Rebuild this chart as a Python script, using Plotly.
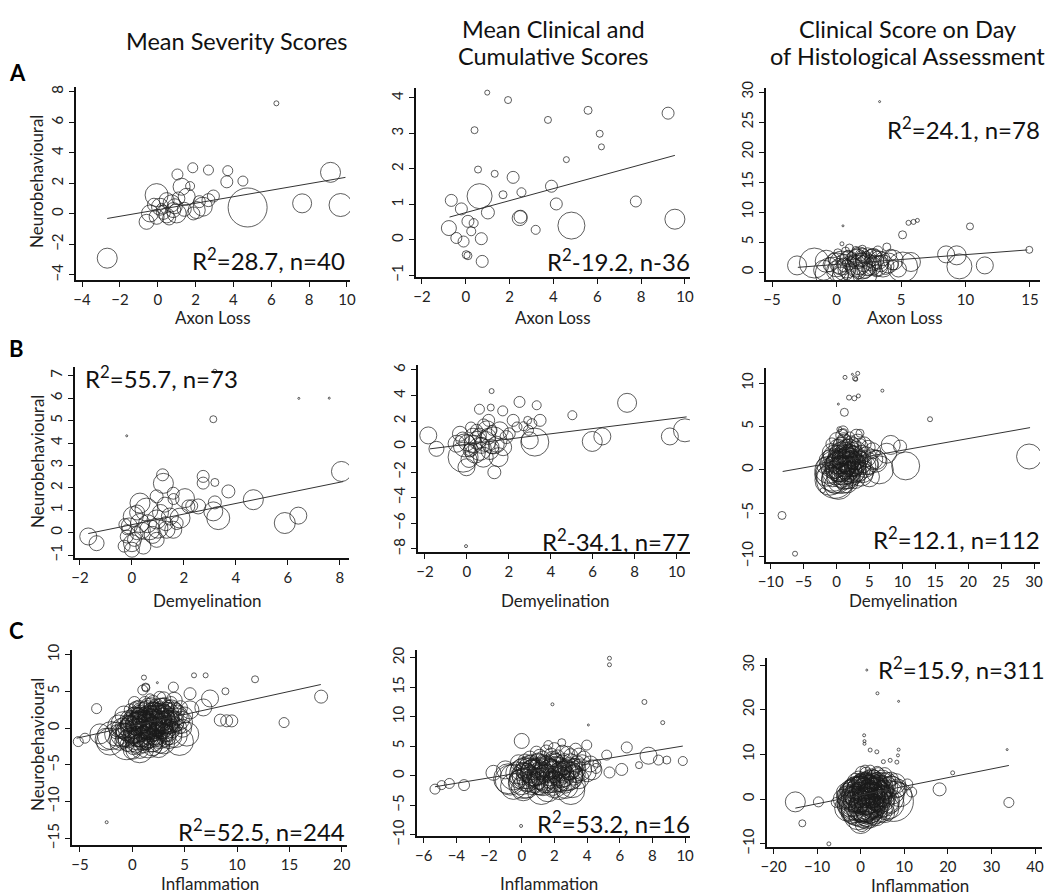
import plotly.graph_objects as go

# The page body has an 8px default margin, so the figure is drawn 8px smaller
# and every reference-pixel position is shifted by OFF.
OFF = 8
W, H = 1054 - OFF, 895 - OFF
FONT = "Lato"

# ---------------- data: (x, y, bubble size) ----------------
A1_points = [(-2.67,-2.9,20),(6.27,7.24,5),(9.66,0.58,23),(9.13,2.72,20),(7.63,0.69,19),(4.75,0.42,39),
    (4.5,2.15,10),(3.65,2.1,12),(3.7,2.83,10),(2.68,2.87,10),(1.85,3.02,10),(1.04,2.58,11),(1.71,1.82,9),
    (2.94,1.17,12),(2.38,0.47,19),(2.06,0.25,17),(1.26,1.78,17),(1.53,1.12,17),(-0.06,1.23,23),
    (-0.41,0.03,17),(-0.59,-0.52,15),(0.12,0.47,17),(0.47,0.9,15),(-0.06,-0.19,15),(0.82,0.25,15),
    (0.73,0.69,17),(1.0,0.03,19),(0.47,-0.1,15),(1.09,1.01,13),(0.2,0.36,10),(1.88,0.03,13),(2.68,0.9,13),
    (0.3,0.1,14),(0.9,0.5,15),(-0.2,0.6,13),(1.4,0.3,14),(0.6,-0.3,13),(2.2,0.8,12)]
A1_fit_x = [-2.67, 9.92]
A1_fit_y = [-0.30, 2.39]

A2_points = [(0.98,4.15,5),(1.93,3.94,7),(0.4,3.09,7),(3.75,3.38,7),(5.58,3.65,8),(9.23,3.57,12),
    (6.11,2.99,7),(6.19,2.62,6),(4.59,2.26,6),(0.56,1.98,7),(1.32,1.86,7),(2.16,1.76,12),(3.91,1.51,12),
    (2.54,1.34,9),(1.7,1.27,8),(0.63,1.23,25),(7.76,1.08,11),(4.13,1.01,12),(1.01,0.77,13),(2.46,0.61,15),
    (4.82,0.4,27),(9.54,0.58,20),(3.19,0.28,9),(-0.66,1.11,12),(-0.2,0.87,12),(0.1,0.52,12),(0.36,0.47,9),
    (0.25,0.24,9),(-0.77,0.33,15),(-0.43,0.05,11),(-0.1,-0.05,11),(0.71,0.03,12),(0.1,-0.45,8),
    (0.02,-0.42,8),(0.75,-0.61,12),(2.5,0.65,13)]
A2_fit_x = [-0.74, 9.54]
A2_fit_y = [0.64, 2.38]

A3_points = [(3.34,28.4,2),(0.5,7.7,2),(0.42,4.7,4),(5.58,8.2,5),(5.97,8.35,5),(6.27,8.6,4),(5.12,6.2,8),
    (10.35,7.6,7),(14.95,3.7,7),(3.9,4.17,8),(-1.72,1.5,30),(-3.06,1.1,19),(-0.36,-0.28,33),(1.78,2.5,20),
    (5.13,0.83,30),(5.77,1.67,19),(8.5,2.94,17),(9.53,0.94,25),(9.32,2.78,19),(11.5,1.1,17),(4.03,1.5,20),
    (2.87,2.5,17),(0.2,1.0,15),(0.5,2.0,12),(0.8,0.5,18),(1.0,1.5,14),(1.2,2.5,10),(1.4,0.8,16),
    (1.6,3.0,10),(1.8,1.2,20),(2.0,2.0,14),(2.2,0.3,16),(2.4,3.2,10),(2.6,1.8,12),(2.8,1.0,18),
    (3.0,2.6,12),(3.2,3.5,10),(3.4,1.4,16),(3.6,2.2,14),(3.8,0.6,12),(4.2,2.8,12),(4.4,1.2,10),
    (0.0,0.2,20),(0.3,-0.5,16),(0.6,1.2,14),(0.9,2.8,10),(1.1,-0.2,18),(1.3,1.9,12),(1.5,3.6,8),
    (1.7,0.0,14),(1.9,2.7,10),(2.1,1.4,16),(2.3,2.4,12),(2.5,0.6,14),(2.7,3.0,10),(2.9,1.6,14),
    (3.1,0.2,12),(3.3,2.0,18),(0.1,3.2,8),(0.7,3.5,8),(1.0,4.0,8),(2.0,3.8,8),(-0.5,1.2,14),
    (-0.2,2.2,12),(4.8,0.5,16),(-1.0,0.3,20),(0.6,0.4,22),(1.5,1.0,22),(2.4,1.2,22),(3.2,1.0,20),
    (0.9,2.2,16),(2.0,2.8,14),
    (0.4,1.5,24),(1.2,0.4,24),(2.0,1.0,26),(2.8,2.0,22),(3.6,1.0,22),(1.6,2.2,20),(0.0,1.2,24),
    (-0.8,1.8,22),(4.4,2.0,20),(2.2,-0.4,24)]
A3_fit_x = [-3.0, 14.8]
A3_fit_y = [0.78, 3.68]

B1_points = [(3.19,7.2,4),(3.13,5.06,7),(-0.2,4.32,2),(6.42,5.99,2),(7.59,6.0,2),(8.06,2.73,20),
    (4.67,1.47,20),(3.71,1.84,13),(3.19,1.35,13),(3.32,0.65,23),(3.13,0.95,19),(5.88,0.43,21),
    (6.4,0.76,17),(2.74,2.51,12),(2.74,2.21,12),(3.19,2.24,8),(2.04,1.54,19),(2.55,1.17,15),
    (2.17,1.17,13),(1.59,1.76,12),(1.21,2.2,20),(1.18,2.58,12),(1.27,1.25,15),(0.95,1.62,13),
    (1.85,0.65,20),(1.59,0.13,17),(0.95,0.59,19),(0.56,1.03,23),(0.31,0.43,19),(0.69,0.13,20),
    (0.05,0.72,20),(-0.2,-0.17,13),(0.0,-0.47,17),(0.0,-0.76,15),(-0.2,0.13,10),(0.18,-0.02,13),
    (-0.27,0.36,12),(0.31,1.32,20),(1.33,0.13,17),(1.46,0.72,17),(-1.68,-0.17,17),(-1.36,-0.47,15),
    (0.44,-0.62,15),(0.95,-0.32,15),(1.72,0.43,13),(0.1,-0.3,14),(-0.1,0.3,16),(0.6,0.4,18),
    (1.1,0.9,16),(0.8,-0.1,17),(-0.3,-0.6,12),(1.3,0.4,14),(0.2,0.9,15),(1.0,0.2,20),(0.4,0.1,16),
    (1.6,1.5,11),(2.3,1.2,12)]
B1_fit_x = [-1.68, 8.13]
B1_fit_y = [-0.04, 2.28]

B2_points = [(1.18,4.35,5),(-0.04,-7.78,3),(2.51,3.5,11),(3.33,3.24,9),(7.64,3.43,19),(5.03,2.46,9),
    (3.49,2.06,12),(2.9,2.06,8),(2.21,2.06,12),(1.71,2.8,10),(0.6,2.93,10),(1.14,3.06,7),(-1.84,0.88,17),
    (-1.45,-0.17,15),(3.0,0.49,17),(3.24,0.36,28),(5.98,0.41,20),(6.46,0.8,17),(9.68,0.8,17),
    (10.4,1.28,23),(2.94,1.28,10),(2.39,1.54,10),(2.02,1.01,12),(1.31,-2.0,13),(-0.18,-0.82,30),
    (-0.1,0.1,23),(0.62,-0.17,23),(1.27,0.49,27),(1.51,-0.82,19),(0.96,1.28,19),(0.3,0.78,17),
    (1.57,1.28,17),(1.73,-0.04,17),(-0.02,-1.61,17),(0.78,-0.82,20),(-0.49,0.23,17),(0.46,1.28,12),
    (-0.33,1.01,15),(1.04,2.06,12),(1.89,0.75,13),(0.13,-0.3,13),(1.2,1.28,10),(0.3,0.2,18),
    (0.9,0.4,20),(0.1,-1.0,16),(0.6,0.9,14),(1.1,-0.3,18),(-0.2,0.6,14),(0.8,1.7,12),(1.4,0.2,16),
    (0.4,-0.5,20),(0.2,1.5,11),(2.7,1.6,9),(3.1,1.8,10),(0.0,0.3,16),(0.5,0.5,18),(1.0,0.8,16),
    (0.2,-0.2,14),(0.7,0.1,16),(1.2,0.0,14)]
B2_fit_x = [-1.76, 10.48]
B2_fit_y = [-0.17, 2.33]

B3_points = [(1.29,10.69,4),(2.81,10.58,5),(3.22,11.15,4),(2.41,11.04,2),(2.91,10.46,4),(1.9,8.35,5),
    (2.71,8.27,5),(3.32,8.54,4),(0.28,7.6,2),(6.96,9.15,3),(1.19,6.65,8),(14.2,5.85,5),(29.24,1.54,25),
    (10.5,0.46,28),(8.23,2.88,19),(9.65,2.69,13),(7.62,1.92,20),(-8.28,-5.27,8),(-6.3,-9.69,5),
    (-2.1,-2.38,5),(0.43,4.69,5),(1.04,4.31,8),(3.57,4.23,8),(-0.23,-1.15,37),(-1.24,0.0,27),
    (0.53,0.38,30),(4.58,0.77,23),(6.1,1.15,19),
    (0.0,0.0,30),(0.5,1.0,26),(-0.5,-0.5,34),(1.0,2.0,22),(1.5,0.5,28),(2.0,1.5,24),(-1.0,1.0,22),
    (0.2,2.5,18),(0.8,-1.0,30),(2.5,0.0,26),(3.0,2.0,22),(3.5,0.8,24),(4.0,-0.2,22),(4.5,1.5,20),
    (5.0,0.5,18),(5.5,2.2,16),(1.2,3.2,16),(2.2,3.0,16),(0.0,3.5,14),(-1.5,-0.5,24),(-0.8,2.0,18),
    (1.8,-0.8,24),(2.8,-1.0,20),(3.2,3.2,16),(0.3,-1.8,28),(1.0,0.0,30),(2.0,1.0,26),(0.5,2.0,20),
    (-0.2,1.5,24),(1.5,2.5,18),(3.8,1.8,18),(2.5,2.8,16),(6.0,1.0,22),(6.5,0.0,28),(4.2,3.0,14),
    (0.8,4.0,12),(1.0,4.5,10),(3.0,4.0,12),(-1.8,0.5,16),(0.1,0.8,22),(1.3,1.3,26),(2.8,0.6,22),
    (-0.3,-1.2,26),(3.3,-0.4,18),(1.6,-1.4,22),(4.8,2.6,14),(0.6,3.0,14),(2.0,3.8,10),(-0.7,3.0,12),
    (5.0,-0.8,20),
    (0.2,0.3,28),(0.7,-0.3,30),(1.2,0.8,28),(1.7,0.0,28),(2.2,0.7,26),(2.7,1.4,24),(3.2,0.2,26),
    (3.7,-0.5,24),(0.4,1.6,22),(0.9,2.6,20),(1.4,1.9,22),(1.9,2.4,20),(2.4,2.0,20),(0.0,-1.0,30),
    (-0.4,0.6,28),(-1.0,-1.2,30),(1.3,-0.6,28),(2.3,-0.4,24),(4.3,0.4,22),(5.5,1.2,20),(0.6,0.6,30),
    (1.6,1.1,26),(-0.6,1.2,22),(3.4,2.6,18),(1.1,3.6,12),
    (0.4,0.4,20),(0.9,1.0,20),(1.4,0.3,20),(1.9,0.9,20),(2.4,0.4,20),(2.9,1.0,18),(0.2,1.2,18),
    (1.0,-0.5,22),(1.8,-0.2,20),(3.1,0.6,18),(0.7,0.0,24),(1.5,1.6,18),(2.1,2.0,16),
    (0.3,-0.4,18),(0.8,0.6,18),(1.3,0.0,18),(1.8,0.5,18),(2.3,1.2,18),(2.8,0.2,18),(0.6,1.4,16),
    (1.6,2.0,16),(2.6,1.8,16),(-0.2,0.2,20),(1.1,-1.1,20),(3.6,1.2,16),(4.0,0.6,16),(-0.6,-0.8,20)]
B3_fit_x = [-8.18, 29.39]
B3_fit_y = [-0.19, 4.88]

C1_points = [(-2.45,-12.8,3),(18.03,4.3,13),(14.49,0.77,10),(11.72,6.66,7),(7.0,7.2,5),(5.89,7.2,5),
    (8.89,5.03,7),(1.11,6.9,5),(2.39,6.2,2),(3.92,5.6,10),(1.27,5.6,8),(-3.41,2.67,10),(7.42,4.05,17),
    (5.51,4.7,12),(6.78,2.83,17),(9.01,1.01,12),(9.5,1.0,12),(8.4,1.1,12),(-5.16,-1.82,10),
    (-4.52,-1.36,10),(-3.09,-0.77,20),(-2.13,-1.82,27),(-0.54,-2.04,33),(0.73,-2.95,17),(2.64,-2.04,20),
    (-1.2,-1.5,22),(-0.8,0.5,26),(-0.5,-1.0,24),(-0.3,1.2,18),(0.0,-0.2,28),(0.2,1.8,16),(0.4,-1.8,22),
    (0.5,0.6,24),(0.7,2.2,14),(0.9,-0.8,26),(1.0,1.0,20),(1.2,2.8,12),(1.3,-1.5,18),(1.5,0.2,26),
    (1.6,1.6,22),(1.8,3.2,14),(1.9,-0.5,20),(2.1,0.9,24),(2.2,2.3,18),(2.4,-1.2,16),(2.5,1.4,26),
    (2.7,3.0,16),(2.8,0.1,22),(3.0,1.9,20),(3.1,-0.7,18),(3.3,2.6,14),(3.4,0.8,24),(3.6,1.5,18),
    (3.8,-0.2,16),(4.0,2.2,20),(4.2,0.5,14),(4.4,1.2,22),(4.6,2.8,14),(4.8,0.0,18),(5.0,1.8,16),
    (-0.2,2.5,12),(0.1,-2.5,16),(0.6,3.0,12),(1.1,-2.4,14),(1.7,4.0,10),(2.0,-2.0,18),(2.6,4.2,12),
    (3.2,-1.6,14),(3.7,3.5,12),(0.3,0.0,30),(1.4,0.7,30),(2.3,1.0,30),(0.8,1.5,20),(-0.6,-0.3,20),
    (1.0,-0.1,24),(2.0,0.0,22),(2.9,2.6,22),(0.4,1.0,18),(1.8,2.0,16),(-1.0,0.0,20),(-1.5,-0.8,24),
    (0.0,-3.0,18),(0.7,-2.8,28),(1.5,-2.0,30),(2.5,-2.5,22),(3.5,-1.0,26),(4.5,-1.8,28),(5.2,-0.8,24),
    (5.5,2.5,18),(4.0,3.8,16),(3.0,4.0,14),(-2.0,-1.0,28),(-2.5,-1.5,22),(-0.8,1.8,18),(0.2,3.5,12),
    (1.2,3.5,12),(2.0,3.5,14),(1.0,5.2,10),(1.3,5.5,8),
    (0.1,0.4,26),(0.6,-0.6,28),(1.1,0.4,26),(1.6,-0.9,26),(2.1,-0.3,28),(2.6,0.6,26),(3.1,0.3,26),
    (3.6,-0.6,24),(0.3,1.4,22),(0.9,2.0,22),(1.4,2.4,20),(1.9,1.3,26),(2.4,1.9,22),(2.9,1.0,26),
    (3.4,2.0,22),(3.9,0.9,22),(-0.4,0.0,26),(-0.2,-1.6,24),(0.5,-1.2,26),(1.2,-1.0,28),(1.8,-1.6,24),
    (2.6,-1.0,26),(3.3,-0.2,24),(0.0,1.0,20),(0.8,0.2,30),(1.7,0.5,30),(2.7,1.5,28),(3.7,2.5,20),
    (4.3,1.8,20),(4.7,0.8,22),(-0.9,-0.9,24),(-1.3,0.3,22),(0.4,2.6,16),(1.5,3.0,16),(2.3,2.9,16),
    (3.1,3.2,14),(0.6,-2.2,20),(1.9,-2.4,20),(3.0,-2.0,22),(4.1,-1.0,24),
    (0.2,0.2,16),(0.5,1.2,18),(0.8,-0.4,16),(1.0,0.6,18),(1.3,1.2,16),(1.5,-0.3,18),(1.8,0.4,16),
    (2.0,1.5,18),(2.2,-0.6,16),(2.5,0.3,18),(2.8,1.2,16),(3.0,0.5,18),(3.3,1.4,16),(0.0,-0.8,18),
    (0.4,-1.4,16),(1.0,-1.8,18),(1.6,-1.2,16),(2.2,-1.4,16),(2.9,-0.4,16),(3.6,0.6,16),(0.6,1.8,14),
    (1.2,2.0,14),(1.9,2.6,14),(2.6,2.2,14),(-0.3,0.6,16),(-0.6,-1.4,16),(4.0,1.2,16),(3.4,-1.2,16),
    (0.9,0.9,24),(2.0,0.7,24),
    (-1.5,-0.5,14),(-1.0,-1.8,14),(-0.5,0.4,14),(-0.5,-2.2,14),(0.0,0.6,14),(0.0,-1.4,14),(0.3,-0.6,12),
    (0.5,2.0,12),(0.7,0.9,14),(0.8,-1.6,14),(1.1,1.6,12),(1.1,-0.6,14),(1.4,0.0,14),(1.4,-2.0,14),
    (1.7,1.0,14),(1.7,2.6,12),(2.0,-0.8,14),(2.0,2.8,12),(2.3,0.4,14),(2.3,1.6,14),(2.6,-1.6,14),
    (2.6,2.8,12),(2.9,0.4,14),(2.9,1.8,14),(3.2,-0.8,14),(3.2,2.2,12),(3.5,0.2,14),(3.5,3.0,12),
    (3.8,1.2,14),(4.2,2.6,12),(4.5,0.2,14),(0.2,2.8,10),(-0.8,-0.4,16),(1.6,-0.2,16),(2.4,-0.2,16),
    (0.6,0.2,16),(1.2,0.8,16),(3.0,1.2,16)]
C1_fit_x = [-5.32, 18.0]
C1_fit_y = [-1.36, 5.95]

C2_points = [(5.37,19.9,4),(5.37,18.8,4),(1.88,12.1,3),(7.51,12.5,5),(8.63,9.0,4),(4.08,8.6,2),
    (-0.04,-8.5,3),(0.0,5.9,15),(1.63,5.2,9),(2.45,5.6,8),(3.98,5.2,10),(6.43,4.8,11),(5.2,3.5,10),
    (7.76,3.4,17),(8.37,2.66,10),(8.88,2.66,8),(9.86,2.5,9),(7.18,1.8,7),(6.12,1.07,12),(5.37,0.56,11),
    (4.55,1.24,10),(4.6,2.1,8),(-5.31,-2.26,10),(-4.9,-1.58,9),(-4.43,-1.3,10),(-3.53,-1.58,11),
    (-1.73,0.5,15),(-0.71,-0.73,30),(0.1,-1.3,30),(1.12,-1.3,23),(2.65,-1.0,23),(3.16,0.11,20),
    (-0.3,0.5,22),(0.0,-1.0,26),(0.2,1.5,18),(0.4,-0.2,24),(0.6,2.2,16),(0.8,0.6,28),(1.0,-1.5,20),
    (1.1,1.2,22),(1.3,3.0,14),(1.4,-0.4,26),(1.6,2.0,18),(1.8,0.8,24),(1.9,-1.8,18),(2.1,1.6,20),
    (2.2,3.2,14),(2.4,0.2,26),(2.6,2.4,16),(2.7,-0.9,20),(2.9,1.2,22),(3.0,3.4,14),(3.2,0.4,18),
    (3.4,2.0,16),(0.5,3.0,14),(0.9,4.0,12),(1.5,4.2,12),(2.0,4.6,12),(2.5,4.0,14),(3.3,4.5,12),
    (0.1,-2.2,24),(1.2,-2.5,28),(2.3,-2.0,24),(3.1,-1.5,26),(-0.8,-0.5,30),(0.3,0.3,34),(1.6,0.0,34),
    (2.8,0.0,30),(0.6,1.0,20),(1.9,2.8,16),(3.6,1.0,22),(3.8,3.0,14),(4.0,0.5,18),(-1.0,1.0,18),
    (0.7,-1.0,22),(2.0,-1.0,22),(3.5,-0.5,20),(1.0,2.5,16),(2.5,1.0,18),(0.2,2.5,14),(-0.5,-1.8,26),
    (3.0,-2.5,28),
    (0.2,0.0,26),(0.7,0.5,26),(1.2,0.0,28),(1.7,0.5,26),(2.2,-0.5,26),(2.6,0.8,24),(3.0,-0.3,24),
    (0.5,1.8,20),(1.0,2.0,20),(1.5,1.5,22),(2.0,2.2,20),(2.5,1.8,20),(3.0,2.2,18),(0.0,1.0,22),
    (-0.5,-0.2,26),(0.6,-0.8,28),(1.3,-1.0,28),(2.0,-1.5,26),(2.7,-1.8,24),(3.3,1.2,20),(3.7,2.2,16),
    (0.3,-1.6,26),(1.8,3.5,14),(1.1,3.3,14),(2.8,3.8,14),(3.5,3.5,14),(4.2,2.0,16),(4.3,1.0,20),
    (-0.2,2.2,16),(1.6,-2.2,26),
    (0.3,0.6,18),(0.9,1.2,18),(1.4,0.4,18),(1.9,1.0,18),(2.4,0.6,18),(2.9,0.8,18),(0.6,-0.4,18),
    (1.1,0.2,20),(1.7,-0.4,20),(2.3,0.0,20),(0.0,0.2,20),(1.0,-0.6,20),(2.6,-0.2,20),(3.2,1.6,16),
    (1.3,2.4,14),(2.1,2.6,14),(0.4,0.9,24),(1.5,1.1,24),(2.2,1.3,22),
    (0.1,0.9,16),(0.5,0.1,16),(0.9,-0.2,16),(1.2,0.8,16),(1.6,0.6,16),(2.0,0.2,16),(2.3,1.0,16),
    (2.7,0.4,16),(3.1,0.9,16),(0.8,1.6,14),(1.7,1.8,14),(2.6,1.4,14),(-0.2,-0.6,18),(1.4,-1.4,18),
    (2.4,-1.2,18),(0.4,-1.2,18),(3.4,0.2,16),(1.9,-0.9,16)]
C2_fit_x = [-5.31, 9.86]
C2_fit_y = [-1.86, 5.03]

C3_points = [(1.4,28.9,2),(3.84,23.7,3),(8.7,21.9,2),(0.79,14.3,3),(0.87,13.0,3),(0.87,12.4,3),
    (2.17,11.0,4),(3.7,10.6,4),(5.2,8.4,4),(6.76,8.7,4),(8.3,8.3,4),(8.7,11.1,3),(8.55,9.8,3),
    (33.6,11.1,2),(21.1,5.9,4),(34.0,-0.74,10),(18.1,2.2,13),(10.7,3.3,11),(11.7,1.6,10),
    (-15.0,-0.6,20),(-9.7,-0.6,10),(-13.4,-5.4,7),(-7.3,-10.0,4),(0.25,-5.8,13),(-5.6,-0.74,10),
    (6.4,-0.74,20),(8.3,2.2,17),
    (0.0,0.0,45),(1.0,1.0,40),(-1.0,-1.0,38),(2.0,2.0,35),(-2.0,0.5,30),(3.0,-1.0,32),(4.0,1.5,30),
    (5.0,3.0,26),(6.0,0.5,34),(7.0,2.0,28),(-3.0,-2.0,26),(-1.5,2.5,22),(0.5,4.0,18),(1.5,-3.0,28),
    (2.5,5.0,16),(3.5,3.5,22),(4.5,-2.5,24),(5.5,5.5,14),(-4.0,0.0,20),(-0.5,-3.5,30),(1.8,-0.5,36),
    (-0.8,1.5,30),(3.2,0.8,34),(2.8,3.0,24),(0.8,-1.8,32),(4.8,0.0,26),(6.5,-1.0,30),(-2.5,2.0,20),
    (1.2,5.8,12),(3.8,6.0,12),(2.2,6.5,10),(0.2,6.0,12),(-1.2,4.0,16),(8.0,3.5,20),(9.0,1.0,24),
    (7.5,-0.5,40),(-3.5,1.5,18),(0.0,-5.0,24),(1.5,2.0,30),(2.0,-2.0,30),(-1.8,-1.5,28),(3.5,-3.5,22),
    (5.5,-3.0,20),(0.5,0.5,30),(1.0,-0.5,28),(2.5,1.0,26),(-0.5,2.5,22),(4.0,4.0,18),(6.0,2.5,22),
    (-2.0,-3.0,22),(1.5,3.5,20),(3.0,5.0,14),(0.0,3.0,20),(-1.0,0.0,26),(2.0,0.0,32),(5.0,1.0,24),
    (3.0,2.0,28),(-0.3,-2.0,36),(1.3,-4.0,24),(7.0,4.5,14),
    (0.5,-1.0,36),(1.5,0.5,34),(2.5,-0.5,34),(3.5,1.0,30),(4.5,2.5,26),(-0.5,0.5,34),(-1.5,-0.5,30),
    (0.0,2.0,28),(1.0,3.0,26),(2.0,4.0,22),(3.0,4.5,18),(4.0,3.0,22),(5.0,4.5,18),(6.0,4.0,18),
    (-2.5,-1.0,26),(-1.0,-2.5,30),(0.5,-3.0,30),(2.0,-3.5,26),(3.0,-2.5,28),(4.5,-1.0,28),(5.5,-0.5,30),
    (6.0,-2.0,24),(-3.0,0.5,22),(-2.0,2.5,18),(-0.5,4.5,16),(1.0,6.5,10),(4.0,5.5,14),(7.0,3.0,20),
    (8.5,2.5,18),(1.5,-1.5,36),
    (0.3,0.8,24),(1.2,-0.2,24),(2.2,1.2,24),(3.2,2.8,20),(-0.7,-0.4,24),(0.8,2.2,22),(1.8,3.0,20),
    (2.6,-1.4,24),(3.8,-0.2,22),(-1.4,1.0,22),(0.2,-1.8,26),(1.4,-2.4,24),(4.2,0.8,22),(5.2,2.0,20),
    (-0.2,3.8,16),(2.4,2.4,22),(1.0,1.8,26),(0.6,-0.6,40),(2.8,0.4,38),(-0.4,1.2,36),
    (-0.2,-0.8,20),(0.4,0.2,20),(1.0,0.4,20),(1.6,1.2,20),(2.2,-0.8,20),(2.8,1.6,20),(3.4,-0.4,20),
    (4.0,2.2,18),(-1.2,0.2,20),(-0.6,1.8,18),(0.6,2.8,18),(1.6,-1.0,20),(2.4,0.2,20),(3.6,1.8,18),
    (0.2,-2.6,20),(1.2,-3.2,18),(2.8,-2.0,20),(4.8,1.2,18),(5.6,0.6,22),(-1.8,0.8,18),(-2.6,-0.4,18),
    (0.0,4.2,14),(2.6,3.8,14),(4.6,3.6,14),(1.2,4.8,12)]
C3_fit_x = [-15.0, 34.0]
C3_fit_y = [-2.0, 7.55]

title_lines = [("Mean Severity Scores", 237, 41),
               ("Mean Clinical and", 553, 29), ("Cumulative Scores", 553, 56),
               ("Clinical Score on Day", 907, 29), ("of Histological Assessment", 907, 56)]
row_letters = ["A", "B", "C"]
x_titles = ["Axon Loss", "Demyelination", "Inflammation"]
y_title = "Neurobehavioural"
stats = ["R<sup>2</sup>=28.7, n=40", "R<sup>2</sup>-19.2, n-36", "R<sup>2</sup>=24.1, n=78",
         "R<sup>2</sup>=55.7, n=73", "R<sup>2</sup>-34.1, n=77", "R<sup>2</sup>=12.1, n=112",
         "R<sup>2</sup>=52.5, n=244", "R<sup>2</sup>=53.2, n=16", "R<sup>2</sup>=15.9, n=311"]

# ---------------- layout of the panels (reference pixel boxes) ----------------
panels = [
    # points, fit x, fit y, box (x0, x1, ytop, ybottom), xrange, yrange, xdtick, ydtick, stat (px, py, anchor)
    (A1_points, A1_fit_x, A1_fit_y, (76, 350, 87, 280), [-4.32, 10.16], [-4.33, 8.31], 2, 2, (347, 259, "right")),
    (A2_points, A2_fit_x, A2_fit_y, (416, 690, 88, 277), [-2.27, 10.23], [-1.05, 4.28], 2, 1, (692, 260, "right")),
    (A3_points, A3_fit_x, A3_fit_y, (766, 1040, 88, 280), [-5.47, 15.78], [-1.33, 30.67], 5, 5, (1042, 128, "right")),
    (B1_points, B1_fit_x, B1_fit_y, (75, 349, 367, 558), [-2.19, 8.35], [-1.13, 7.39], 2, 1, (83, 377, "left")),
    (B2_points, B2_fit_x, B2_fit_y, (418, 690, 365, 552), [-2.33, 10.64], [-8.24, 6.39], 2, 2, (692, 540, "right")),
    (B3_points, B3_fit_x, B3_fit_y, (766, 1040, 368, 562), [-10.71, 30.9], [-10.65, 11.77], 5, 5, (1042, 538, "right")),
    (C1_points, C1_fit_x, C1_fit_y, (72, 347, 650, 845), [-5.76, 20.5], [-15.9, 10.65], 5, 5, (347, 830, "right")),
    (C2_points, C2_fit_x, C2_fit_y, (417, 690, 650, 836), [-6.41, 10.3], [-10.2, 21.3], 2, 5, (692, 822, "right")),
    (C3_points, C3_fit_x, C3_fit_y, (767, 1042, 658, 847), [-21.5, 41.6], [-10.7, 31.6], 10, 10, (1047, 668, "right")),
]

def fx(p):
    return (p - OFF) / W

def fy(p):
    return 1 - (p - OFF) / H

fig = go.Figure()
layout = dict(width=W, height=H, margin=dict(l=0, r=0, t=0, b=0, autoexpand=False),
              paper_bgcolor="white", plot_bgcolor="white", showlegend=False,
              font=dict(family=FONT, color="#1a1a1a", size=15))
annotations = []

tickfont = dict(family=FONT, size=15, color="#222")
for i, (pts, fxs, fys, box, xr, yr, xd, yd, st) in enumerate(panels):
    k = i + 1
    xs = [p[0] for p in pts]
    ys = [p[1] for p in pts]
    ss = [p[2] for p in pts]
    xa = "x" if k == 1 else f"x{k}"
    ya = "y" if k == 1 else f"y{k}"
    fig.add_trace(go.Scatter(x=xs, y=ys, mode="markers", xaxis=xa, yaxis=ya,
                             marker=dict(symbol="circle-open", size=ss, color="#1a1a1a",
                                         line=dict(width=1)),
                             hoverinfo="skip"))
    fig.add_trace(go.Scatter(x=fxs, y=fys, mode="lines", xaxis=xa, yaxis=ya,
                             line=dict(color="#333", width=1), hoverinfo="skip"))
    x0, x1, yt, yb = box
    common = dict(showline=True, linecolor="#111", linewidth=2, ticks="outside", ticklen=5,
                  tickwidth=1, tickcolor="#111", showgrid=False, zeroline=False,
                  tickfont=tickfont, tick0=0, fixedrange=True, ticklabelstandoff=0,
                  automargin=False)
    layout["xaxis" if k == 1 else f"xaxis{k}"] = dict(
        domain=[fx(x0), fx(x1)], range=xr, dtick=xd, anchor=ya, **common)
    layout["yaxis" if k == 1 else f"yaxis{k}"] = dict(
        domain=[fy(yb), fy(yt)], range=yr, dtick=yd, anchor=xa, tickangle=-90, **common)
    annotations.append(dict(text=stats[i], x=fx(st[0]), y=fy(st[1]), xref="paper", yref="paper",
                            xanchor=st[2], yanchor="middle", showarrow=False,
                            font=dict(family=FONT, size=24, color="#111")))

# column titles (one annotation per line)
for txt, cx, cy in title_lines:
    annotations.append(dict(text=txt, x=fx(cx), y=fy(cy), xref="paper", yref="paper",
                            xanchor="center", yanchor="middle", showarrow=False,
                            font=dict(family=FONT, size=23.5, color="#111")))
# row letters
for txt, ly in zip(row_letters, [72, 348, 630]):
    annotations.append(dict(text=f"<b>{txt}</b>", x=fx(7), y=fy(ly), xref="paper", yref="paper",
                            xanchor="left", yanchor="middle", showarrow=False,
                            font=dict(family=FONT, size=22, color="#000")))
# x-axis titles
row_title_y = [[317, 317, 317], [600, 600, 600], [883, 883, 885]]
col_title_x = [[213, 553, 905], [207, 555, 903], [210, 549, 920]]
for r in range(3):
    for c in range(3):
        annotations.append(dict(text=x_titles[r], x=fx(col_title_x[r][c]), y=fy(row_title_y[r][c]),
                                xref="paper", yref="paper", xanchor="center", yanchor="middle",
                                showarrow=False, font=dict(family=FONT, size=17, color="#222")))
# y-axis titles (first column only)
for cy in [182, 462, 745]:
    annotations.append(dict(text=y_title, x=fx(37), y=fy(cy), xref="paper", yref="paper",
                            xanchor="center", yanchor="middle", textangle=-90, showarrow=False,
                            font=dict(family=FONT, size=17, color="#222")))

layout["annotations"] = annotations
fig.update_layout(**layout)
fig.write_html("out.html")
